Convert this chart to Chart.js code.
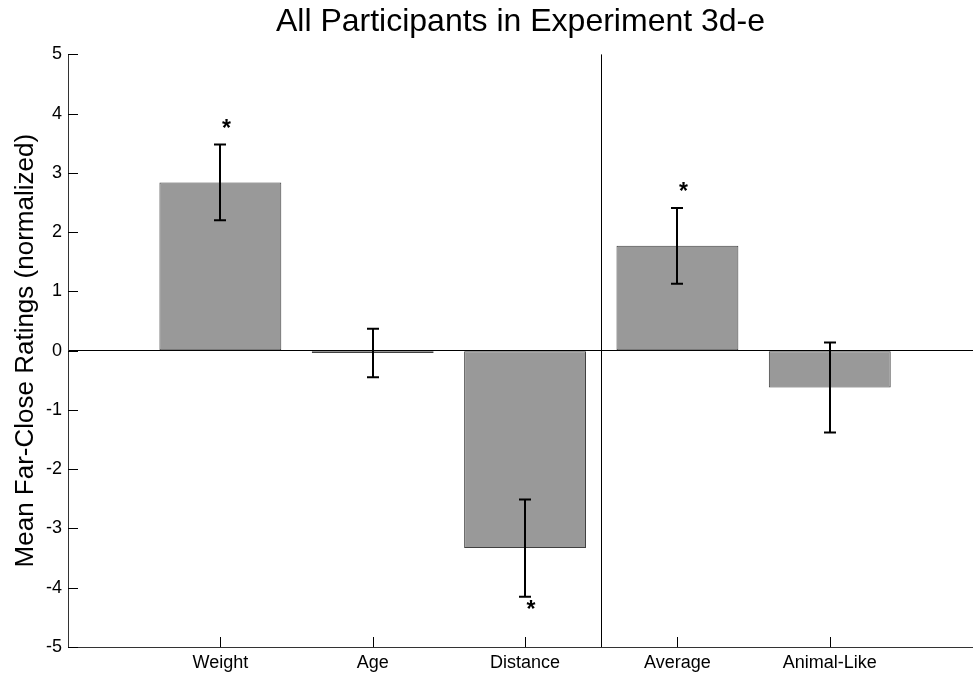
<!DOCTYPE html>
<html>
<head>
<meta charset="utf-8">
<title>All Participants in Experiment 3d-e</title>
<script src="https://cdn.jsdelivr.net/npm/chart.js@4.4.1/dist/chart.umd.min.js"></script>
<style>
    html, body { margin: 0; padding: 0; background: #fff; }
    #wrap { width: 973px; height: 677px; }
</style>
</head>
<body>
<div id="wrap"><canvas id="farCloseChart" width="973" height="677"></canvas></div>
<script>
// data
const categories = ['Weight', 'Age', 'Distance', 'Average', 'Animal-Like'];
const means = [2.84, -0.04, -3.33, 1.77, -0.62];
const errors = [0.64, 0.41, 0.82, 0.64, 0.76];
const starAt = [3.84, null, -4.27, 2.78, null];   // where the significance stars sit
const yTicks = [-5, -4, -3, -2, -1, 0, 1, 2, 3, 4, 5];
const dividerAt = 3.5;

const FONT = '"Liberation Sans", Arial, Helvetica, sans-serif';
Chart.defaults.font.family = FONT;
Chart.defaults.color = '#000';

// inward ticks, divider line, error bars and stars
const overlay = {
    id: 'overlay',
    afterDatasetsDraw(chart) {
        const { ctx, chartArea: a, scales: { x, y } } = chart;
        ctx.save();
        ctx.strokeStyle = '#000';
        ctx.lineWidth = 1;

        const sx = Math.round(x.getPixelForValue(dividerAt)) + 0.5;
        ctx.beginPath();
        ctx.moveTo(sx, a.top);
        ctx.lineTo(sx, a.bottom);
        ctx.stroke();

        ctx.beginPath();
        y.ticks.forEach(t => {
            const py = Math.round(y.getPixelForValue(t.value)) + 0.5;
            ctx.moveTo(a.left, py);
            ctx.lineTo(a.left + 10, py);
        });
        x.ticks.forEach(t => {
            const px = Math.round(x.getPixelForValue(t.value)) + 0.5;
            ctx.moveTo(px, a.bottom);
            ctx.lineTo(px, a.bottom - 10);
        });
        ctx.stroke();

        ctx.lineWidth = 2;
        means.forEach((m, i) => {
            const px = Math.round(x.getPixelForValue(i + 1));
            const hi = y.getPixelForValue(m + errors[i]);
            const lo = y.getPixelForValue(m - errors[i]);
            ctx.beginPath();
            ctx.moveTo(px, hi); ctx.lineTo(px, lo);
            ctx.moveTo(px - 6, hi); ctx.lineTo(px + 6, hi);
            ctx.moveTo(px - 6, lo); ctx.lineTo(px + 6, lo);
            ctx.stroke();
        });

        const size = 23;
        ctx.fillStyle = '#000';
        ctx.font = 'bold ' + size + 'px ' + FONT;
        ctx.textAlign = 'center';
        ctx.textBaseline = 'alphabetic';
        starAt.forEach((v, i) => {
            if (v === null) return;
            ctx.fillText('*', x.getPixelForValue(i + 1) + 6, y.getPixelForValue(v) + 0.58 * size);
        });
        ctx.restore();
    }
};

const farCloseChart = new Chart(
    document.getElementById('farCloseChart'),
    {
        type: 'bar',
        data: {
            datasets: [{
                data: means.map((v, i) => ({ x: i + 1, y: v })),
                backgroundColor: '#999999',
                borderColor: '#404040',
                borderWidth: 1,
                borderSkipped: false,
                barPercentage: 0.8,
                categoryPercentage: 1,
            }]
        },
        options: {
            responsive: false,
            animation: false,
            layout: { padding: 0 },
            plugins: {
                legend: { display: false },
                tooltip: { enabled: false },
                title: {
                    display: true,
                    text: 'All Participants in Experiment 3d-e',
                    fullSize: false,
                    font: { size: 32, weight: 'normal' },
                    padding: { top: 3, bottom: 13 },
                },
            },
            scales: {
                x: {
                    type: 'linear',
                    min: 0,
                    max: 5.94,
                    offset: false,
                    afterBuildTicks: s => { s.ticks = categories.map((c, i) => ({ value: i + 1 })); },
                    afterFit: s => { s.height = 30; },
                    grid: { display: false, drawTicks: false },
                    border: { display: true, color: '#333', width: 1 },
                    ticks: {
                        autoSkip: false,
                        maxRotation: 0,
                        padding: 5,
                        font: { size: 18 },
                        callback: v => categories[v - 1] || '',
                    },
                },
                y: {
                    min: -5,
                    max: 5,
                    afterBuildTicks: s => { s.ticks = yTicks.map(v => ({ value: v })); },
                    afterFit: s => { s.width = 68; },
                    grid: {
                        drawTicks: false,
                        color: c => (c.tick && c.tick.value === 0 ? '#000' : 'rgba(0,0,0,0)'),
                        lineWidth: 1,
                    },
                    border: { display: true, color: '#333', width: 1 },
                    ticks: { padding: 6, font: { size: 18 } },
                    title: {
                        display: true,
                        text: 'Mean Far-Close Ratings (normalized)',
                        font: { size: 26 },
                        padding: { top: 10, bottom: 0 },
                    },
                },
            },
        },
        plugins: [overlay],
    }
);
</script>
</body>
</html>
